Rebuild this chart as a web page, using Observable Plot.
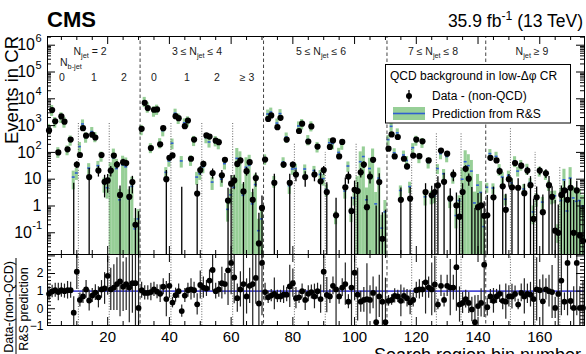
<!DOCTYPE html>
<html>
<head>
<meta charset="utf-8">
<script src="https://cdn.jsdelivr.net/npm/d3@7"></script>
<script src="https://cdn.jsdelivr.net/npm/@observablehq/plot@0.6"></script>
<style>
html,body{margin:0;padding:0;background:#fff;}
#chart{position:relative;width:586px;height:354px;overflow:hidden;background:#fff;}
#chart svg{position:absolute;left:0;top:0;}
</style>
</head>
<body>
<div id="chart"></div>
<script>
// ---------------- data (174 search-region bins) ----------------
const bins = d3.range(1, 175);

// Data - (non-QCD), events in low-dphi CR
const dataVals = [
  660,3800,1450,100,2200,1400,130,300,-3,35,
  80,800,420,12,460,360,21,80,8,9,
  21,76,35,2.6,43,40,2.2,7.8,0.2,0.015,
  760,7100,4500,145,3900,4000,200,800,10,63,
  77,2250,1900,-4,950,1550,58,300,2.9,22,
  37,430,390,17,275,240,14,53,1.6,6.8,
  9,37,50,3.5,20,43,1.7,11,0.04,0.85,
  54,1780,2400,7.3,870,1950,35,300,7.3,35,
  15,630,1180,12,255,930,15,165,8.3,22,
  3.3,160,280,0.45,71,245,5,12.5,0.65,4,
  3.6,18,35,0.9,12.6,53,-0.5,7.8,0.06,-0.3,
  138,470,71,375,1.7,58,30,1.9,
  76,300,72,260,3.3,50,2.5,3.3,
  5.9,117,8,90,1.9,15,1.05,0.4,
  3.3,24.5,10.5,-0.1,-1,0.9,1.05,0.43,
  0.45,63,2.1,50,20,5.4,0.72,10,
  5,40,4.8,32,3,21,6,0.33,
  2.1,21,0.59,16.6,6,2.2,0.12,0.1,
  2.6,3.8,1.7,4.8,0.1,3.8,0.08,0.05
];
const dataErr = [
  40,120,60,15,70,60,18,30,10,10,
  14,40,30,13,30,28,9,14,6,6,
  9,15,11,3,12,11,3,5,0.6,0.6,
  40,130,100,18,90,90,20,40,11,12,
  15,70,60,9,45,55,12,25,3.5,8,
  10,28,27,7,22,20,7,11,3,7,
  5,10,11,4,7,10,2.5,6,0.5,1.5,
  10,50,60,8,35,50,9,22,8,9,
  7,30,40,7,20,35,7,16,9,8,
  4,16,20,1.5,11,20,6,6,1.5,4.5,
  4,7,10,1.5,6,11,1.5,8,0.5,1,
  16,28,12,25,3,11,8,3,
  12,22,11,20,3.5,10,3,3.5,
  6.5,14,8.5,12,2.5,7,2,1.5,
  3.5,7,5,5,1.8,2,2,1,
  2,11,3,10,6,6,2,5,
  5.5,9,5.5,8,3.5,7,6.5,1.5,
  3,7,2,6,6.5,3,1.5,1,
  3,4.5,2.5,5.5,1.5,4.5,1.5,1
];
// Prediction from R&S and its uncertainty
const predVals = [
  780,3900,1400,105,2100,1400,125,290,12,17,
  165,1150,380,26,600,390,32,73,7,4.8,
  19,63,25,1.7,34,29,1.8,5.4,0.14,0.33,
  720,8000,5000,150,3550,4100,230,650,18,48,
  220,2900,1900,48,1270,1500,52,280,12,16,
  29,360,245,7.8,275,220,10,38,0.75,2.6,
  5,60,45,2.5,28,33,1.2,6.3,0.12,0.33,
  57,2700,3200,8.6,1240,2800,44,375,5.7,24,
  25,970,1180,24,300,980,21,165,15,10.5,
  4.2,230,215,0.4,100,205,3.6,31,0.54,2,
  4.5,45,70,1.7,25,59,1.2,11,0.15,0.6,
  300,940,97,535,3.8,80,50,5.3,
  150,285,65,236,2.2,42,2.3,2.4,
  25,90,16,70,1.6,12.5,0.44,1.6,
  10,45,32,20,1.3,6,3.2,0.17,
  5,90,4.7,71,24,12,1.8,14,
  7.2,48,20,35,4.3,25,7.5,0.6,
  1.9,20,1.4,15,6,2.3,2.4,0.12,
  1.6,9.5,0.65,11,2,1.5,1.6,1
];
const predErr = [
  330,1700,600,45,900,600,50,120,8,8,
  70,480,160,12,250,160,14,30,4,3,
  22,70,30,2.5,38,33,2.2,6.5,0.2,0.4,
  300,3300,2100,60,1500,1700,95,270,9,20,
  95,1200,800,22,520,620,22,115,6,7,
  13,150,100,4,115,95,5,16,0.5,1.5,
  8,80,60,4,35,45,2,9,0.2,0.5,
  24,1100,1300,4,520,1150,19,155,3,10,
  11,400,500,10,125,400,9,70,6,5,
  2,95,90,0.2,42,85,1.8,13,0.3,1,
  8,60,90,3,35,75,2,15,0.3,1,
  125,380,40,220,1.8,32,20,2.4,
  62,115,27,95,1.2,18,1.2,1.2,
  10,37,7,29,0.8,6,0.3,0.8,
  15,70,50,30,2,9,5,0.3,
  2,38,2,30,11,5.5,0.8,6,
  3,21,8,15,2,11,3,0.4,
  1,8,0.7,6,2.5,1.2,1.2,0.08,
  3,14,1.2,16,3,2.5,2.5,1.5
];
// Ratio (Data-(non-QCD)) / (R&S prediction)
const ratioVals = [
  0.85,0.98,1.05,0.95,1.05,1.0,1.05,1.05,-0.22,2.1,
  0.5,0.7,1.1,0.47,0.75,0.92,0.65,1.1,1.15,1.87,
  1.1,1.2,1.4,1.55,1.25,1.4,1.2,1.45,1.45,0.05,
  1.05,0.9,0.9,0.95,1.1,0.97,0.85,1.25,0.55,1.3,
  0.35,0.77,1.0,-0.13,0.75,1.05,1.1,1.05,0.25,1.35,
  1.2,1.15,1.6,2.2,1.0,1.1,1.45,1.4,2.18,2.6,
  1.78,0.6,1.1,1.4,0.7,1.3,1.4,1.75,0.3,2.6,
  0.95,0.65,0.75,0.85,0.7,0.7,0.8,0.8,1.27,1.45,
  0.6,0.65,1.0,0.5,0.85,0.95,0.7,1.0,0.55,2.1,
  0.78,0.7,1.3,1.1,0.7,1.2,1.4,0.4,1.2,2.05,
  0.8,0.4,0.5,0.55,0.5,0.9,-0.76,0.7,0.4,-0.76,
  0.45,0.5,0.73,0.7,0.45,0.73,0.6,0.36,
  0.5,1.05,1.1,1.1,1.5,1.2,1.1,1.38,
  0.24,1.3,0.5,1.3,1.2,1.2,2.36,0.24,
  0.33,0.55,0.33,-0.04,-0.76,0.15,0.33,2.5,
  0.09,0.7,0.45,0.7,0.85,0.45,0.4,0.7,
  0.69,0.84,0.24,0.9,0.7,0.85,0.8,0.55,
  1.1,1.05,0.42,1.1,1.0,0.95,0.05,0.84,
  1.6,0.4,2.6,0.44,0.05,2.6,0.05,0.05
];
const ratioErr = [
  0.4,0.35,0.4,0.5,0.4,0.4,0.5,0.45,0.9,1.0,
  0.4,0.4,0.5,0.6,0.4,0.45,0.6,0.5,0.9,1.1,
  1.2,1.3,1.5,2,1.4,1.5,2,1.7,3,3,
  0.45,0.4,0.4,0.5,0.4,0.4,0.5,0.45,1.0,0.7,
  0.3,0.4,0.4,0.35,0.4,0.4,0.6,0.45,0.6,0.8,
  0.6,0.45,0.6,1.2,0.45,0.45,0.9,0.6,2,1.8,
  1.5,0.8,1.0,2.5,1.0,1.0,2.5,1.5,3,3,
  0.5,0.35,0.35,0.9,0.35,0.35,0.5,0.4,1.2,0.8,
  0.6,0.35,0.4,0.6,0.45,0.4,0.7,0.45,0.8,1.2,
  1.0,0.4,0.5,2.5,0.45,0.5,1.2,0.4,2.5,1.6,
  1.5,0.6,0.7,2,0.8,0.9,2,1.2,3,2.5,
  0.3,0.3,0.4,0.35,0.9,0.45,0.5,0.7,
  0.4,0.45,0.55,0.45,1.8,0.6,1.5,1.6,
  0.3,0.6,0.4,0.6,1.6,0.7,2.5,1.0,
  0.6,0.5,0.6,0.7,1.5,0.6,0.8,3,
  0.5,0.4,0.7,0.4,0.5,0.5,1.0,0.6,
  0.7,0.45,0.3,0.5,1.0,0.55,0.7,2.5,
  1.8,0.6,1.5,0.6,0.9,1.5,0.6,2.5,
  2,0.5,3,0.5,1.2,3,1.2,1.5
];

// region boundaries
const njetEdges = [30.5, 70.5, 110.5, 142.5];
const nbEdges = [10.5,20.5,40.5,50.5,60.5,80.5,90.5,100.5,118.5,126.5,134.5,150.5,158.5,166.5];
const nbTop   = [1200,1200,1200,1200,1200,230,100,230,150,500,500,850,100,30];

// tick labels
const xTickLabels = [20,40,60,80,100,120,140,160];
const yDecadeExp = [6,5,4,3,2];
const ratioTickLabels = [-1,0,1,2];

// ---------------- layout ----------------
const W = 586, H = 354;
const X0 = 47, X1 = 584, UT = 36, UB = 254, LB = 325;
const FONT = "'Liberation Sans', Arimo, Arial, Helvetica, sans-serif";
const GREEN = "#97cf97", BLUE = "#2f5fd0", RLINE = "#4b4bd6";
const xDom = [0.5, 174.5];
const yMin = Math.pow(10, -1.81), yMax = Math.pow(10, 6.325);
const rDom = [-0.95, 3.08];
const pxBin = (X1 - X0) / (xDom[1] - xDom[0]);
const pxDec = (UB - UT) / (Math.log10(yMax) - Math.log10(yMin));
const pxR = (LB - UB) / (rDom[1] - rDom[0]);

const rows = bins.map((b, i) => ({
  bin: b, data: dataVals[i], dataErr: dataErr[i],
  pred: predVals[i], predErr: predErr[i],
  ratio: ratioVals[i], ratioErr: ratioErr[i]
}));
const nbLines = nbEdges.map((x, i) => ({x, top: nbTop[i]}));

// tick helpers
const xMaj = xTickLabels;
const xMin = d3.range(5, 175, 5).filter(v => v % 20 !== 0);
const yMajU = [0.1, 1, 10, 100, 1e3, 1e4, 1e5, 1e6];
const yMinU = [];
for (let e = -2; e <= 6; e++) for (let k = 2; k <= 9; k++) {
  const v = k * Math.pow(10, e); if (v > yMin && v < yMax) yMinU.push(v);
}
const rMaj = [0, 1, 2, 3];
const rMin = d3.range(-0.8, 3.05, 0.2).map(v => +v.toFixed(2)).filter(v => Math.abs(v - Math.round(v)) > 1e-6);
const MAJ = 8, MIN = 4;
const tk = {stroke: "black", strokeWidth: 1};

const styleStr = `background:transparent;font-family:${FONT};position:absolute;left:0;top:0;overflow:visible;`;

// ---------------- upper panel ----------------
const upper = Plot.plot({
  width: W, height: H,
  marginTop: UT, marginBottom: H - UB, marginLeft: X0, marginRight: W - X1,
  style: styleStr,
  x: {domain: xDom, axis: null},
  y: {type: "log", domain: [yMin, yMax], axis: null},
  marks: [
    Plot.rect(rows, {x1: d => d.bin - 0.5, x2: d => d.bin + 0.5,
      y1: d => Math.max(d.pred - d.predErr, yMin), y2: d => Math.min(d.pred + d.predErr, yMax),
      fill: GREEN, clip: true}),
    Plot.ruleY(rows.filter(d => d.pred > yMin), {x1: d => d.bin - 0.47, x2: d => d.bin + 0.47, y: "pred", stroke: BLUE, strokeWidth: 1.6}),
    Plot.ruleX(njetEdges, {x: d => d, y1: yMin, y2: yMax, stroke: "#444", strokeDasharray: "3.5,2.5", strokeWidth: 1}),
    Plot.ruleX(nbLines, {x: "x", y1: yMin, y2: "top", stroke: "#666", strokeDasharray: "1,1.6", strokeWidth: 1}),
    Plot.ruleX(rows.filter(d => d.data + d.dataErr > yMin), {x: "bin",
      y1: d => Math.max(d.data - d.dataErr, yMin), y2: d => d.data + d.dataErr,
      stroke: "black", strokeWidth: 1.3, clip: true}),
    Plot.dot(rows.filter(d => d.data > yMin), {x: "bin", y: "data", r: 3.1, fill: "black", stroke: null}),
    // inward ticks
    Plot.ruleY(yMajU, {y: d => d, x1: xDom[0], x2: xDom[0] + MAJ / pxBin, ...tk}),
    Plot.ruleY(yMinU, {y: d => d, x1: xDom[0], x2: xDom[0] + MIN / pxBin, ...tk}),
    Plot.ruleY(yMajU, {y: d => d, x1: xDom[1] - MAJ / pxBin, x2: xDom[1], ...tk}),
    Plot.ruleY(yMinU, {y: d => d, x1: xDom[1] - MIN / pxBin, x2: xDom[1], ...tk}),
    Plot.ruleX(xMaj, {x: d => d, y1: yMax, y2: yMax / Math.pow(10, MAJ / pxDec), ...tk}),
    Plot.ruleX(xMin, {x: d => d, y1: yMax, y2: yMax / Math.pow(10, MIN / pxDec), ...tk}),
    Plot.ruleX(xMaj, {x: d => d, y1: yMin, y2: yMin * Math.pow(10, MAJ / pxDec), ...tk}),
    Plot.ruleX(xMin, {x: d => d, y1: yMin, y2: yMin * Math.pow(10, MIN / pxDec), ...tk}),
    Plot.frame({stroke: "black", strokeWidth: 1}),
    // y tick labels
    Plot.text(yDecadeExp.map(e => Math.pow(10, e)), {y: d => d, text: () => "10", frameAnchor: "left", textAnchor: "end", dx: -12.5, fontSize: 16, fill: "black"}),
    Plot.text(yDecadeExp.map(e => Math.pow(10, e)), {y: d => d, text: d => String(Math.round(Math.log10(d))), frameAnchor: "left", textAnchor: "end", dx: -6, dy: -7, fontSize: 11, fill: "black"}),
    Plot.text([0.1], {y: d => d, text: () => "10", frameAnchor: "left", textAnchor: "end", dx: -15.5, fontSize: 16, fill: "black"}),
    Plot.text([0.1], {y: d => d, text: () => "-1", frameAnchor: "left", textAnchor: "end", dx: -5.5, dy: -7, fontSize: 11, fill: "black"}),
    Plot.text([10, 1], {y: d => d, text: d => String(d), frameAnchor: "left", textAnchor: "end", dx: -6, fontSize: 16, fill: "black"})
  ]
});

// ---------------- lower (ratio) panel ----------------
const lower = Plot.plot({
  width: W, height: H,
  marginTop: UB, marginBottom: H - LB, marginLeft: X0, marginRight: W - X1,
  style: styleStr,
  x: {domain: xDom},
  y: {domain: rDom},
  marks: [
    Plot.ruleY([1], {stroke: RLINE, strokeWidth: 1.6}),
    Plot.ruleX(njetEdges, {x: d => d, stroke: "#444", strokeDasharray: "3.5,2.5", strokeWidth: 1}),
    Plot.ruleX(nbEdges, {x: d => d, stroke: "#666", strokeDasharray: "1,1.6", strokeWidth: 1}),
    Plot.ruleX(rows, {x: "bin", y1: d => d.ratio - d.ratioErr, y2: d => d.ratio + d.ratioErr, stroke: "#222", strokeWidth: 1.2, clip: true}),
    Plot.dot(rows.filter(d => d.ratio >= rDom[0] && d.ratio <= rDom[1]), {x: "bin", y: "ratio", r: 2.9, fill: "black", stroke: null}),
    Plot.ruleY(rMaj, {y: d => d, x1: xDom[0], x2: xDom[0] + MAJ / pxBin, ...tk}),
    Plot.ruleY(rMin, {y: d => d, x1: xDom[0], x2: xDom[0] + MIN / pxBin, ...tk}),
    Plot.ruleY(rMaj, {y: d => d, x1: xDom[1] - MAJ / pxBin, x2: xDom[1], ...tk}),
    Plot.ruleY(rMin, {y: d => d, x1: xDom[1] - MIN / pxBin, x2: xDom[1], ...tk}),
    Plot.ruleX(xMaj, {x: d => d, y1: rDom[1], y2: rDom[1] - MAJ / pxR, ...tk}),
    Plot.ruleX(xMin, {x: d => d, y1: rDom[1], y2: rDom[1] - MIN / pxR, ...tk}),
    Plot.ruleX(xMaj, {x: d => d, y1: rDom[0], y2: rDom[0] + MAJ / pxR, ...tk}),
    Plot.ruleX(xMin, {x: d => d, y1: rDom[0], y2: rDom[0] + MIN / pxR, ...tk}),
    Plot.frame({stroke: "black", strokeWidth: 1}),
    Plot.axisX({ticks: xTickLabels, tickSize: 0, tickPadding: 6, fontSize: 15, label: null, tickFormat: d => String(d), fill: "black"}),
    Plot.axisY({ticks: ratioTickLabels, tickSize: 0, tickPadding: 4, fontSize: 12, label: null, tickFormat: d => d < 0 ? "\u2212" + Math.abs(d) : String(d), fill: "black"})
  ]
});

const chart = document.getElementById("chart");
chart.appendChild(lower);
chart.appendChild(upper);

// ---------------- text overlay: titles, annotations, legend ----------------
const ov = d3.create("svg").attr("width", W).attr("height", H)
  .style("position", "absolute").style("left", 0).style("top", 0)
  .attr("font-family", FONT);

function rich(parent, x, y, parts, size, anchor, extra = {}) {
  const t = parent.append("text").attr("x", x).attr("y", y).attr("font-size", size)
    .attr("text-anchor", anchor).attr("fill", extra.fill || "black");
  if (extra.weight) t.attr("font-weight", extra.weight);
  if (extra.transform) t.attr("transform", extra.transform);
  let shift = 0;
  for (const [s, kind] of parts) {
    const target = kind === "sub" ? size * 0.3 : kind === "sup" ? -size * 0.4 : 0;
    const ts = t.append("tspan").text(s).attr("dy", target - shift);
    if (kind !== "n") ts.attr("font-size", size * 0.7);
    shift = target;
  }
  return t;
}

rich(ov, 47, 27, [["CMS", "n"]], 22, "start", {weight: "bold"});
rich(ov, 583, 27, [["35.9 fb", "n"], ["-1", "sup"], [" (13 TeV)", "n"]], 17.5, "end");

// axis titles
rich(ov, 0, 0, [["Events in CR", "n"]], 18.5, "end", {transform: "translate(17.5,36) rotate(-90)"});
rich(ov, 0, 0, [["Data-(non-QCD)", "n"]], 12.5, "middle", {transform: "translate(13,307) rotate(-90)"});
rich(ov, 0, 0, [["R&S prediction", "n"]], 12.5, "middle", {transform: "translate(28,309) rotate(-90)"});
ov.append("line").attr("x1", 16).attr("x2", 16).attr("y1", 258).attr("y2", 360).attr("stroke", "black").attr("stroke-width", 1);
rich(ov, 581, 361, [["Search region bin number", "n"]], 18, "end");

// region annotations
const AF = 10.5, AC = "#1a1a1a";
rich(ov, 90, 55, [["N", "n"], ["jet", "sub"], [" = 2", "n"]], AF, "middle", {fill: AC});
rich(ov, 60, 66, [["N", "n"], ["b-jet", "sub"]], AF, "start", {fill: AC});
[["0", 62], ["1", 94], ["2", 124], ["0", 154], ["1", 187], ["2", 217], ["\u2265 3", 247]]
  .forEach(([s, x]) => rich(ov, x, 81, [[s, "n"]], AF, "middle", {fill: AC}));
rich(ov, 197, 55, [["3 \u2264 N", "n"], ["jet", "sub"], [" \u2264 4", "n"]], AF, "middle", {fill: AC});
rich(ov, 321, 55, [["5 \u2264 N", "n"], ["jet", "sub"], [" \u2264 6", "n"]], AF, "middle", {fill: AC});
rich(ov, 433, 55, [["7 \u2264 N", "n"], ["jet", "sub"], [" \u2264 8", "n"]], AF, "middle", {fill: AC});
rich(ov, 532, 55, [["N", "n"], ["jet", "sub"], [" \u2265 9", "n"]], AF, "middle", {fill: AC});

// legend
ov.append("rect").attr("x", 385.5).attr("y", 64.5).attr("width", 185).attr("height", 58.5)
  .attr("fill", "white").attr("stroke", "black").attr("stroke-width", 1);
rich(ov, 390, 80, [["QCD background in low-\u0394\u03c6 CR", "n"]], 12, "start");
ov.append("line").attr("x1", 409).attr("x2", 409).attr("y1", 90).attr("y2", 102).attr("stroke", "black").attr("stroke-width", 1.3);
ov.append("circle").attr("cx", 409).attr("cy", 96).attr("r", 3).attr("fill", "black");
rich(ov, 432, 100, [["Data - (non-QCD)", "n"]], 12, "start");
ov.append("rect").attr("x", 393).attr("y", 107).attr("width", 32).attr("height", 13).attr("fill", GREEN);
ov.append("line").attr("x1", 393).attr("x2", 425).attr("y1", 113.5).attr("y2", 113.5).attr("stroke", BLUE).attr("stroke-width", 1.6);
rich(ov, 432, 118, [["Prediction from R&S", "n"]], 12, "start");

chart.appendChild(ov.node());
</script>
</body>
</html>
